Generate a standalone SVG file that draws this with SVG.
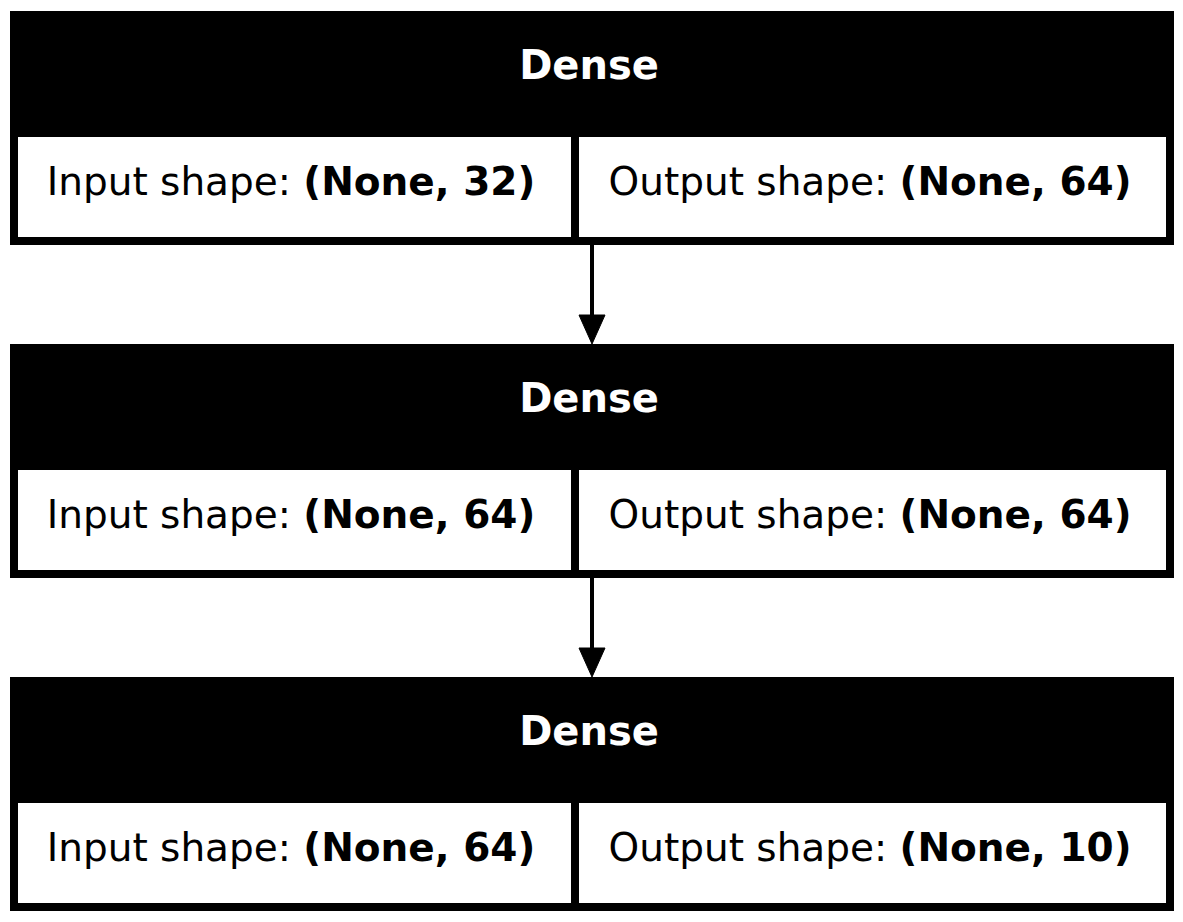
<svg xmlns="http://www.w3.org/2000/svg" width="1183" height="922" viewBox="0 0 1183 922">
<style>
.frame{fill:#000}
.cell{fill:#fff}
.title{font-family:"DejaVu Sans",sans-serif;font-weight:bold;font-size:40px;fill:#fff;text-anchor:middle}
.lbl{font-family:"DejaVu Sans",sans-serif;font-size:39px;fill:#000;text-anchor:middle}
.b{font-weight:bold}
.edge{stroke:#000;stroke-width:4;fill:none}
.head{fill:#000;stroke:#000;stroke-width:1}
</style>
<rect width="1183" height="922" fill="#fff"/>
<g id="connectors">
<line class="edge" x1="592" y1="245" x2="592" y2="317"/>
<polygon class="head" points="579,315 605,315 592,344"/>
<line class="edge" x1="592" y1="578" x2="592" y2="650"/>
<polygon class="head" points="579,648 605,648 592,677"/>
</g>
<g id="node1">
<rect class="frame" x="10" y="11" width="1164" height="234"/>
<rect class="cell" x="18" y="137" width="553" height="100"/>
<rect class="cell" x="579" y="137" width="587" height="100"/>
<text class="title" x="589" y="79">Dense</text>
<text class="lbl" x="291" y="195">Input shape: <tspan class="b">(None, 32)</tspan></text>
<text class="lbl" x="870" y="195">Output shape: <tspan class="b">(None, 64)</tspan></text>
</g>
<g id="node2">
<rect class="frame" x="10" y="344" width="1164" height="234"/>
<rect class="cell" x="18" y="470" width="553" height="100"/>
<rect class="cell" x="579" y="470" width="587" height="100"/>
<text class="title" x="589" y="412">Dense</text>
<text class="lbl" x="291" y="528">Input shape: <tspan class="b">(None, 64)</tspan></text>
<text class="lbl" x="870" y="528">Output shape: <tspan class="b">(None, 64)</tspan></text>
</g>
<g id="node3">
<rect class="frame" x="10" y="677" width="1164" height="234"/>
<rect class="cell" x="18" y="803" width="553" height="100"/>
<rect class="cell" x="579" y="803" width="587" height="100"/>
<text class="title" x="589" y="745">Dense</text>
<text class="lbl" x="291" y="861">Input shape: <tspan class="b">(None, 64)</tspan></text>
<text class="lbl" x="870" y="861">Output shape: <tspan class="b">(None, 10)</tspan></text>
</g>
</svg>
